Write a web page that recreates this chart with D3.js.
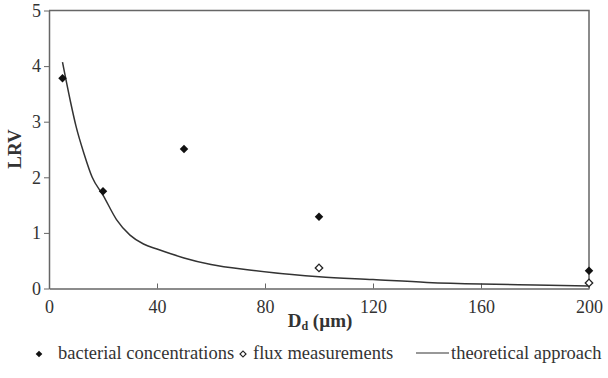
<!DOCTYPE html>
<html>
<head>
<meta charset="utf-8">
<script src="https://cdn.jsdelivr.net/npm/d3@7"></script>
<style>
  body { margin: 0; background: #fff; }
  svg text { font-family: 'Liberation Serif', 'DejaVu Serif', serif; fill: #333; }
</style>
</head>
<body>
<div id="chart"></div>
<script>
// data
const bacterialX = [5, 20, 50, 100, 200]
const bacterialY = [3.78, 1.75, 2.51, 1.29, 0.32]

const fluxX = [100, 200]
const fluxY = [0.37, 0.1]

const theoryX = [5, 8, 10, 13, 16, 20, 25, 30, 35, 40, 50, 60, 75, 90, 100, 120, 140, 160, 180, 200]
const theoryY = [4.07, 3.35, 2.92, 2.42, 2.0, 1.68, 1.24, 0.96, 0.8, 0.71, 0.55, 0.43, 0.33, 0.25, 0.21, 0.16, 0.11, 0.08, 0.062, 0.045]

const xTicks = [0, 40, 80, 120, 160, 200]
const yTicks = [0, 1, 2, 3, 4, 5]

const width = 608, height = 378
const margin = {left: 49, top: 10.5, right: 19, bottom: 89.5}
const serif = "'Liberation Serif', 'DejaVu Serif', serif"

const svg = d3.select('#chart').append('svg')
.attr('width', width)
.attr('height', height)
.attr('font-family', serif)

const x = d3.scaleLinear()
.domain([0, 200])
.range([margin.left, width - margin.right])

const y = d3.scaleLinear()
.domain([0, 5])
.range([height - margin.bottom, margin.top])

const axisColor = '#666'

// frame (top + right)
svg.append('path')
.attr('d', `M${x(0)},${y(5)}H${x(200)}V${y(0)}`)
.attr('fill', 'none')
.attr('stroke', axisColor)
.attr('stroke-width', 1.5)

// x axis, ticks pointing in
const xAxis = svg.append('g')
.attr('transform', `translate(0,${y(0)})`)
.call(d3.axisBottom(x).tickValues(xTicks).tickFormat(d3.format('d')).tickSizeInner(-5).tickSizeOuter(0).tickPadding(12))
.attr('font-family', serif)
.attr('font-size', 18)
xAxis.select('.domain').attr('stroke', axisColor).attr('stroke-width', 1.5)
xAxis.selectAll('.tick line').attr('stroke', axisColor)
xAxis.selectAll('.tick text').attr('fill', '#444')

// y axis, ticks pointing out
const yAxis = svg.append('g')
.attr('transform', `translate(${x(0)},0)`)
.call(d3.axisLeft(y).tickValues(yTicks).tickFormat(d3.format('d')).tickSizeInner(5).tickSizeOuter(0).tickPadding(3))
.attr('font-family', serif)
.attr('font-size', 18)
yAxis.select('.domain').attr('stroke', axisColor).attr('stroke-width', 1.5)
yAxis.selectAll('.tick line').attr('stroke', axisColor)
yAxis.selectAll('.tick text').attr('fill', '#444')

// axis titles
const xTitle = svg.append('text')
.attr('x', 320)
.attr('y', 327)
.attr('text-anchor', 'middle')
.attr('font-size', 19)
.attr('font-weight', 'bold')
xTitle.append('tspan').text('D')
xTitle.append('tspan').attr('dy', 3).attr('font-size', 12).text('d')
xTitle.append('tspan').attr('dy', -3).text(' (µm)')

svg.append('text')
.attr('transform', `translate(21,149) rotate(-90)`)
.attr('text-anchor', 'middle')
.attr('font-size', 19)
.attr('font-weight', 'bold')
.text('LRV')

// theoretical curve
const theory = theoryX.map((d, i) => ({x: d, y: theoryY[i]}))
const line = d3.line()
.x(d => x(d.x))
.y(d => y(d.y))
.curve(d3.curveMonotoneX)

svg.append('path')
.datum(theory)
.attr('d', line)
.attr('fill', 'none')
.attr('stroke', '#333')
.attr('stroke-width', 1.5)

const diamond = d3.symbol().type(d3.symbolSquare).size(36)

// flux measurements (open)
svg.append('g').selectAll('path')
.data(fluxX.map((d, i) => ({x: d, y: fluxY[i]})))
.join('path')
.attr('d', d3.symbol().type(d3.symbolSquare).size(28))
.attr('transform', d => `translate(${x(d.x)},${y(d.y)}) rotate(45)`)
.attr('fill', '#fff')
.attr('stroke', '#222')
.attr('stroke-width', 1.3)

// bacterial concentrations (filled)
svg.append('g').selectAll('path')
.data(bacterialX.map((d, i) => ({x: d, y: bacterialY[i]})))
.join('path')
.attr('d', diamond)
.attr('transform', d => `translate(${x(d.x)},${y(d.y)}) rotate(45)`)
.attr('fill', '#111')

// legend
const legend = svg.append('g').attr('font-size', 18.5)
const ly = 359

legend.append('path')
.attr('d', d3.symbol().type(d3.symbolSquare).size(22))
.attr('transform', `translate(39,${ly - 5}) rotate(45)`)
.attr('fill', '#111')
legend.append('text').attr('x', 58).attr('y', ly).text('bacterial concentrations')

legend.append('path')
.attr('d', d3.symbol().type(d3.symbolSquare).size(18))
.attr('transform', `translate(243,${ly - 5}) rotate(45)`)
.attr('fill', '#fff')
.attr('stroke', '#222')
.attr('stroke-width', 1.2)
legend.append('text').attr('x', 253).attr('y', ly).text('flux measurements')

legend.append('line')
.attr('x1', 416).attr('x2', 449)
.attr('y1', ly - 6).attr('y2', ly - 6)
.attr('stroke', '#333')
.attr('stroke-width', 1.2)
legend.append('text').attr('x', 451).attr('y', ly).text('theoretical approach')
</script>
</body>
</html>
